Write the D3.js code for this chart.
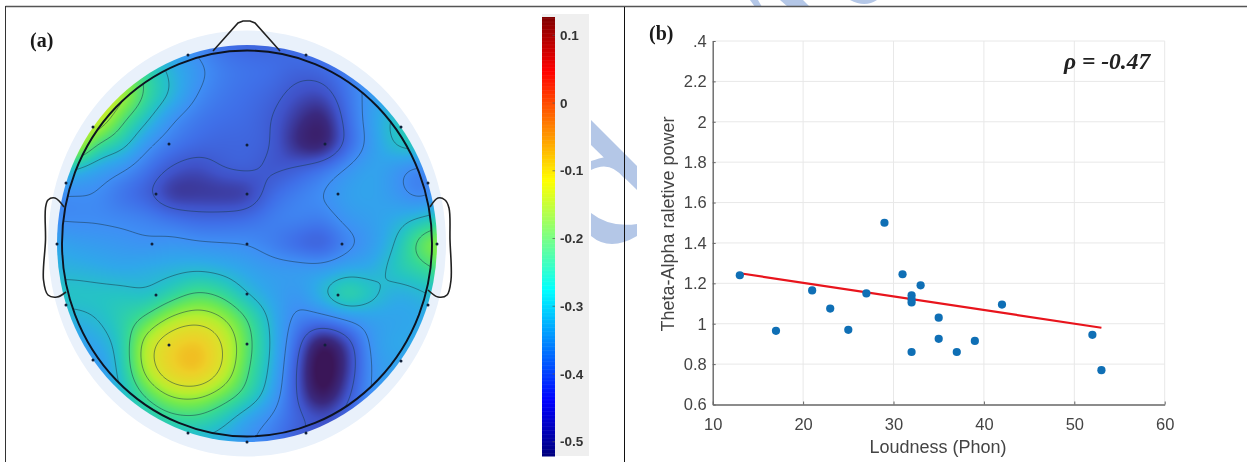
<!DOCTYPE html>
<html>
    <head>
        <meta charset="utf-8" />
        <script src="https://d3js.org/d3.v7.min.js"></script>
        <style>
            body {
                overflow: hidden;
                margin: 0;
                background: #fff;
            }
            svg {
                display: block;
                filter: blur(0.35px);
            }
            .tick-text {
                font-family: 'Liberation Sans', Arial, sans-serif;
                font-size: 16.5px;
                fill: #444;
            }
            .axis-title {
                font-family: 'Liberation Sans', Arial, sans-serif;
                font-size: 18px;
                fill: #444;
            }
            .panel-label {
                font-family: 'Liberation Serif', 'Times New Roman', serif;
                font-weight: bold;
                font-size: 20px;
                fill: #1a1a1a;
            }
            .bar-label {
                font-family: 'Liberation Sans', Arial, sans-serif;
                font-weight: bold;
                font-size: 13.5px;
                fill: #333;
            }
        </style>
    </head>

    <body>
        <script>
            // panel (a): scalp map values on a regular grid, head units
            const topoX = [-1, -0.875, -0.75, -0.625, -0.5, -0.375, -0.25, -0.125, 0, 0.125, 0.25, 0.375, 0.5, 0.625, 0.75, 0.875, 1];
            const topoY = [1, 0.875, 0.75, 0.625, 0.5, 0.375, 0.25, 0.125, 0, -0.125, -0.25, -0.375, -0.5, -0.625, -0.75, -0.875, -1];
            const topoValues = [
                [-0.3, -0.3, -0.3, -0.3, -0.31, -0.33, -0.36, -0.38, -0.39, -0.39, -0.38, -0.37, -0.36, -0.34, -0.33, -0.33, -0.33],
                [-0.22, -0.22, -0.22, -0.22, -0.27, -0.31, -0.34, -0.365, -0.375, -0.38, -0.39, -0.385, -0.365, -0.34, -0.33, -0.33, -0.33],
                [-0.14, -0.14, -0.14, -0.185, -0.26, -0.305, -0.35, -0.37, -0.38, -0.39, -0.41, -0.415, -0.375, -0.335, -0.32, -0.32, -0.32],
                [-0.14, -0.14, -0.16, -0.24, -0.295, -0.345, -0.37, -0.38, -0.385, -0.4, -0.43, -0.45, -0.385, -0.33, -0.29, -0.28, -0.28],
                [-0.16, -0.16, -0.25, -0.285, -0.34, -0.37, -0.385, -0.39, -0.39, -0.4, -0.44, -0.455, -0.39, -0.335, -0.295, -0.28, -0.28],
                [-0.28, -0.3, -0.325, -0.345, -0.375, -0.405, -0.415, -0.4, -0.395, -0.405, -0.395, -0.375, -0.345, -0.325, -0.34, -0.36, -0.33],
                [-0.35, -0.35, -0.352, -0.375, -0.395, -0.43, -0.43, -0.43, -0.425, -0.385, -0.365, -0.35, -0.33, -0.325, -0.34, -0.36, -0.33],
                [-0.353, -0.353, -0.353, -0.356, -0.362, -0.375, -0.385, -0.385, -0.38, -0.365, -0.36, -0.365, -0.34, -0.33, -0.315, -0.295, -0.28],
                [-0.32, -0.33, -0.335, -0.34, -0.345, -0.34, -0.345, -0.348, -0.351, -0.365, -0.385, -0.395, -0.36, -0.335, -0.295, -0.23, -0.19],
                [-0.31, -0.31, -0.315, -0.32, -0.315, -0.31, -0.305, -0.312, -0.325, -0.335, -0.335, -0.335, -0.32, -0.315, -0.285, -0.265, -0.24],
                [-0.29, -0.29, -0.29, -0.29, -0.295, -0.27, -0.245, -0.26, -0.3, -0.325, -0.34, -0.305, -0.265, -0.29, -0.315, -0.305, -0.29],
                [-0.31, -0.31, -0.3, -0.275, -0.24, -0.19, -0.17, -0.195, -0.25, -0.31, -0.36, -0.365, -0.345, -0.33, -0.325, -0.32, -0.32],
                [-0.33, -0.33, -0.32, -0.28, -0.175, -0.11, -0.085, -0.15, -0.235, -0.305, -0.385, -0.465, -0.42, -0.34, -0.32, -0.32, -0.32],
                [-0.34, -0.34, -0.34, -0.285, -0.18, -0.105, -0.08, -0.155, -0.245, -0.31, -0.4, -0.49, -0.43, -0.345, -0.33, -0.33, -0.33],
                [-0.34, -0.34, -0.34, -0.3, -0.24, -0.19, -0.185, -0.22, -0.265, -0.325, -0.4, -0.47, -0.41, -0.345, -0.33, -0.33, -0.33],
                [-0.33, -0.33, -0.33, -0.31, -0.29, -0.265, -0.26, -0.285, -0.325, -0.355, -0.39, -0.41, -0.385, -0.36, -0.35, -0.35, -0.35],
                [-0.31, -0.31, -0.31, -0.31, -0.3, -0.31, -0.31, -0.32, -0.345, -0.37, -0.4, -0.41, -0.4, -0.38, -0.36, -0.36, -0.36]
            ];
            const contourLevels = [-0.4, -0.35, -0.3, -0.25, -0.2, -0.15];
            const electrodeX = [-0.295, 0.295, -0.77, -0.39, 0, 0.39, 0.77, -0.905, -0.455, 0, 0.455, 0.905, -0.95, -0.475, 0, 0.475, 0.95, -0.905, -0.455, 0, 0.455, 0.905, -0.77, -0.39, 0, 0.39, 0.77, -0.295, 0, 0.295];
            const electrodeY = [0.945, 0.945, 0.585, 0.5, 0.495, 0.5, 0.585, 0.305, 0.25, 0.25, 0.25, 0.305, 0, 0, 0, 0, 0, -0.305, -0.255, -0.25, -0.255, -0.305, -0.58, -0.505, -0.5, -0.505, -0.585, -0.945, -0.99, -0.945];

            // colour bar of panel (a)
            const barTicks = [0.1, 0, -0.1, -0.2, -0.3, -0.4, -0.5];
            const barTickLabels = ['0.1', '0', '-0.1', '-0.2', '-0.3', '-0.4', '-0.5'];
            const barDomain = [-0.521, 0.127];
            const jetStops = ['#00007f', '#0000ff', '#00ffff', '#ffff00', '#ff0000', '#7f0000'];
            const jetValues = [-0.521, -0.44, -0.277, -0.115, 0.047, 0.127];
            // the map itself is paler than the bar, these are its own colours
            const mapValues = [-0.47, -0.44, -0.41, -0.38, -0.35, -0.32, -0.29, -0.26, -0.22, -0.18, -0.14, -0.1, -0.07];
            const mapColours = ['#3a1658', '#3a2a80', '#3f52c8', '#3f6fe8', '#3f8ff5', '#2fa8ea', '#25c4c4', '#35d898', '#70ea50', '#b5ee30', '#dde02a', '#eed028', '#f2b820'];

            // panel (b): scatter
            const loudness = [13, 17, 21, 23, 25, 27, 29, 31, 32, 32, 32, 32, 33, 35, 35, 37, 39, 42, 52, 53];
            const thetaAlpha = [1.24, 0.965, 1.165, 1.075, 0.97, 1.15, 1.5, 1.245, 1.14, 1.12, 1.105, 0.86, 1.19, 1.03, 0.925, 0.86, 0.915, 1.095, 0.945, 0.77];
            const fitX = [13, 53];
            const fitY = [1.25, 0.98];
            const xTicks = [10, 20, 30, 40, 50, 60];
            const yTicks = [0.6, 0.8, 1, 1.2, 1.4, 1.6, 1.8, 2, 2.2, 2.4];
            const yTickLabels = ['0.6', '0.8', '1', '1.2', '1.4', '1.6', '1.8', '2', '2.2', '.4'];

            const width = 1247;
            const height = 462;
            const svg = d3.select('body').append('svg').attr('width', width).attr('height', height);

            // watermark first, everything else sits on it
            const watermark = svg.append('g').attr('fill', '#b4c7e7');
            [
                'M591,120 L637,166 L637,190 L591,145 Z',
                'M591,161 Q600,158 605,157 L624,176 L624,178 Q610,160 591,170 Z',
                'M591,213 Q610,228 637,224 L637,236 Q610,252 591,236 Z',
                'M750,0 L758,0 L762,7 L755,7 Z',
                'M780,0 L803,0 L810,7 L788,7 Z',
                'M850,0 L877,0 Q865,8 850,0 Z'
            ].forEach((d) => watermark.append('path').attr('d', d));

            // frame lines
            svg.append('line').attr('x1', 5.5).attr('x2', width).attr('y1', 6.5).attr('y2', 6.5).attr('stroke', '#555').attr('stroke-width', 1.5);
            svg.append('line').attr('x1', 5.5).attr('x2', 5.5).attr('y1', 6).attr('y2', height).attr('stroke', '#333').attr('stroke-width', 1);
            svg.append('line').attr('x1', 624.5).attr('x2', 624.5).attr('y1', 7).attr('y2', height).attr('stroke', '#111').attr('stroke-width', 1);

            // ---- panel (a) ----
            const headX = d3.scaleLinear().domain([-1, 1]).range([47, 447]);
            const headY = d3.scaleLinear().domain([1, -1]).range([44, 444]);
            const cx = headX(0);
            const cy = headY(0) - 0.5;

            svg.append('ellipse').attr('cx', cx).attr('cy', cy).attr('rx', 199).attr('ry', 213).attr('fill', '#e9f1fb');

            // catmull-rom upsample of the read grid
            function cubic(a, b, c, d, t) {
                return b + 0.5 * t * (c - a + t * (2 * a - 5 * b + 4 * c - d + t * (3 * (b - c) + d - a)));
            }
            function sample(gx, gy) {
                const n = topoX.length;
                const i = Math.min(Math.floor(gx), n - 2);
                const j = Math.min(Math.floor(gy), n - 2);
                const at = (r, c) => topoValues[Math.max(0, Math.min(n - 1, r))][Math.max(0, Math.min(n - 1, c))];
                const rows = [-1, 0, 1, 2].map((k) => cubic(at(j + k, i - 1), at(j + k, i), at(j + k, i + 1), at(j + k, i + 2), gx - i));
                return cubic(rows[0], rows[1], rows[2], rows[3], gy - j);
            }

            const mapSize = 401;
            const step = (topoX.length - 1) / (mapSize - 1);
            const field = new Float64Array(mapSize * mapSize);
            for (let r = 0; r < mapSize; r++) {
                for (let c = 0; c < mapSize; c++) {
                    field[r * mapSize + c] = sample(c * step, r * step);
                }
            }
            // takes the grid corners out of the contours
            d3.blur2({ data: field, width: mapSize }, 7);

            const mapColour = d3.scaleLinear().domain(mapValues).range(mapColours).clamp(true);
            const canvas = document.createElement('canvas');
            canvas.width = mapSize;
            canvas.height = mapSize;
            const ctx = canvas.getContext('2d');
            const img = ctx.createImageData(mapSize, mapSize);
            for (let k = 0; k < field.length; k++) {
                const col = d3.rgb(mapColour(field[k]));
                img.data[k * 4] = col.r;
                img.data[k * 4 + 1] = col.g;
                img.data[k * 4 + 2] = col.b;
                img.data[k * 4 + 3] = 255;
            }
            ctx.putImageData(img, 0, 0);

            const defs = svg.append('defs');
            defs.append('clipPath').attr('id', 'map-clip').append('ellipse').attr('cx', cx).attr('cy', cy).attr('rx', 190).attr('ry', 198.5);
            defs.append('clipPath').attr('id', 'head-clip').append('ellipse').attr('cx', cx).attr('cy', cy).attr('rx', 185).attr('ry', 193);

            svg.append('image')
                .attr('href', canvas.toDataURL())
                .attr('x', headX(-1))
                .attr('y', headY(1))
                .attr('width', headX(1) - headX(-1))
                .attr('height', headY(-1) - headY(1))
                .attr('clip-path', 'url(#map-clip)');

            const contours = d3.contours().size([mapSize, mapSize]).thresholds(contourLevels)(field);
            const contourPath = d3.geoPath(
                d3.geoTransform({
                    point(x, y) {
                        this.stream.point(headX(-1) + ((x - 0.5) / (mapSize - 1)) * 400, headY(1) + ((y - 0.5) / (mapSize - 1)) * 400);
                    }
                })
            );
            svg.append('g')
                .attr('clip-path', 'url(#head-clip)')
                .selectAll('path')
                .data(contours)
                .enter()
                .append('path')
                .attr('d', contourPath)
                .attr('fill', 'none')
                .attr('stroke', '#1c3a4a')
                .attr('stroke-opacity', 0.65)
                .attr('stroke-width', 0.8);

            // nose, ears, head outline
            const nose = [[213, 51], [238, 23], [243, 21], [250, 21], [255, 23], [280, 51]];
            const leftEar = [[64, 207], [55, 198], [48, 200], [45.5, 208], [45.5, 240], [43.5, 280], [48, 295], [57, 297], [66, 292]];
            const rightEar = [[430, 207], [438, 198], [445, 200], [449, 208], [450, 240], [451, 280], [447, 295], [438, 297], [428, 290]];
            svg.append('path').attr('d', d3.line()(nose)).attr('fill', 'none').attr('stroke', '#222').attr('stroke-width', 1.6);
            [leftEar, rightEar].forEach((pts) => {
                svg.append('path').attr('d', d3.line().curve(d3.curveCatmullRom)(pts)).attr('fill', 'none').attr('stroke', '#222').attr('stroke-width', 1.6);
            });
            svg.append('ellipse').attr('cx', cx).attr('cy', cy).attr('rx', 185).attr('ry', 193).attr('fill', 'none').attr('stroke', '#0d1320').attr('stroke-width', 1.9);

            svg.append('g')
                .selectAll('circle')
                .data(electrodeX)
                .enter()
                .append('circle')
                .attr('cx', (d) => headX(d))
                .attr('cy', (d, i) => headY(electrodeY[i]))
                .attr('r', 1.5)
                .attr('fill', '#10203a');

            svg.append('text').attr('class', 'panel-label').attr('x', 30).attr('y', 47).text('(a)');

            // colour bar
            const barY = d3.scaleLinear().domain(barDomain).range([456, 17]);
            const jet = d3.scaleLinear().domain(jetValues).range(jetStops);
            svg.append('rect').attr('x', 542).attr('y', 14).attr('width', 47).attr('height', 442).attr('fill', '#efefef');
            const barValues = d3.range(barDomain[0], barDomain[1], 0.002);
            svg.append('g')
                .selectAll('rect')
                .data(barValues)
                .enter()
                .append('rect')
                .attr('x', 542)
                .attr('width', 13)
                .attr('y', (d) => barY(d + 0.002))
                .attr('height', (d) => barY(d) - barY(d + 0.002) + 0.5)
                .attr('fill', (d) => jet(d));
            svg.append('g')
                .selectAll('line')
                .data(barTicks)
                .enter()
                .append('line')
                .attr('x1', 552.5)
                .attr('x2', 555)
                .attr('y1', (d) => barY(d))
                .attr('y2', (d) => barY(d))
                .attr('stroke', '#555')
                .attr('stroke-width', 0.7);
            svg.append('g')
                .selectAll('text')
                .data(barTicks)
                .enter()
                .append('text')
                .attr('class', 'bar-label')
                .attr('x', 560)
                .attr('y', (d) => barY(d) + 4.5)
                .text((d, i) => barTickLabels[i]);

            // ---- panel (b) ----
            const x = d3.scaleLinear().domain([10, 60]).range([712.7, 1164.7]);
            const y = d3.scaleLinear().domain([0.6, 2.4]).range([404.5, 41]);

            const grid = svg.append('g').attr('stroke', '#e8e8e8').attr('stroke-width', 1);
            grid.selectAll('.gx')
                .data(xTicks.slice(1))
                .enter()
                .append('line')
                .attr('x1', (d) => x(d))
                .attr('x2', (d) => x(d))
                .attr('y1', y(2.4))
                .attr('y2', y(0.6));
            grid.selectAll('.gy')
                .data(yTicks.slice(1))
                .enter()
                .append('line')
                .attr('x1', x(10))
                .attr('x2', x(60))
                .attr('y1', (d) => y(d))
                .attr('y2', (d) => y(d));

            const xAxis = svg
                .append('g')
                .attr('transform', `translate(0,${y(0.6)})`)
                .call(d3.axisBottom(x).tickValues(xTicks).tickSizeInner(-3).tickSizeOuter(0).tickPadding(14).tickFormat(d3.format('d')));
            const yAxis = svg
                .append('g')
                .attr('transform', `translate(${x(10)},0)`)
                .call(d3.axisLeft(y).tickValues(yTicks).tickSizeInner(-3).tickSizeOuter(0).tickPadding(6).tickFormat((d, i) => yTickLabels[i]));
            [xAxis, yAxis].forEach((axis) => {
                axis.selectAll('path,line').attr('stroke', '#666');
                axis.select('path').attr('stroke-width', 1.4);
                axis.selectAll('text').attr('class', 'tick-text');
            });

            svg.append('line')
                .attr('x1', x(fitX[0]))
                .attr('x2', x(fitX[1]))
                .attr('y1', y(fitY[0]))
                .attr('y2', y(fitY[1]))
                .attr('stroke', '#e8141c')
                .attr('stroke-width', 2.2);

            svg.append('g')
                .selectAll('circle')
                .data(loudness)
                .enter()
                .append('circle')
                .attr('cx', (d) => x(d))
                .attr('cy', (d, i) => y(thetaAlpha[i]))
                .attr('r', 4.1)
                .attr('fill', '#0f6fb5');

            svg.append('text').attr('class', 'panel-label').attr('x', 649).attr('y', 40).text('(b)');
            svg.append('text')
                .attr('x', 1064)
                .attr('y', 69)
                .attr('font-family', "'Liberation Serif', 'Times New Roman', serif")
                .attr('font-weight', 'bold')
                .attr('font-style', 'italic')
                .attr('font-size', 23.5)
                .attr('fill', '#222')
                .text('ρ = -0.47');
            svg.append('text')
                .attr('class', 'axis-title')
                .attr('text-anchor', 'middle')
                .attr('transform', 'translate(674,224) rotate(-90)')
                .text('Theta-Alpha raletive power');
            svg.append('text').attr('class', 'axis-title').attr('text-anchor', 'middle').attr('x', 938).attr('y', 453).text('Loudness (Phon)');
        </script>
    </body>
</html>
